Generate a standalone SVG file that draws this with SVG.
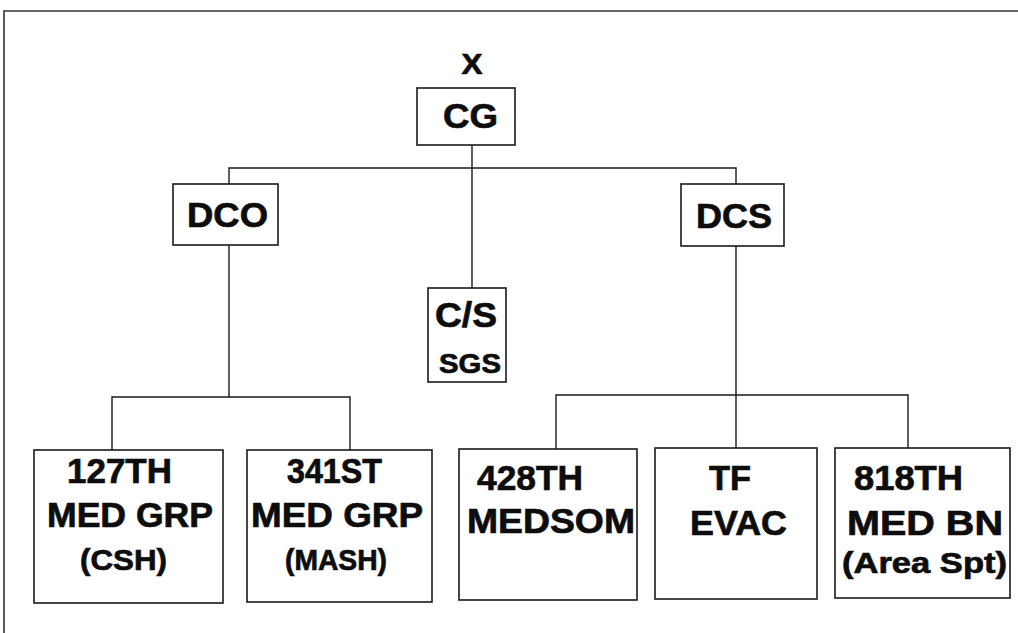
<svg xmlns="http://www.w3.org/2000/svg" width="1018" height="633" viewBox="0 0 1018 633">
<style>
.box{fill:#fff;stroke:#1a1a1a;stroke-width:1.6}
.ln{fill:none;stroke:#1a1a1a;stroke-width:1.4}
.fr{fill:none;stroke:#333;stroke-width:1.6}
text{font-family:"Liberation Sans",Arial,Helvetica,sans-serif;font-weight:bold;fill:#0d0d0d;stroke:#0d0d0d;stroke-width:0.7;text-anchor:middle}
.big{font-size:35px}
.mid{font-size:30px}
.sm{font-size:27px}
</style>
<rect width="1018" height="633" fill="#fff"/>
<g id="frame"><path class="fr" d="M4,633 V11 H1018"/></g>
<g id="connectors">
<path class="ln" d="M472,145 V288"/>
<path class="ln" d="M229,184 V168 H736 V184"/>
<path class="ln" d="M229,245 V397"/>
<path class="ln" d="M112,450 V397 H350 V450"/>
<path class="ln" d="M736,246 V448"/>
<path class="ln" d="M556,449 V395 H908 V448"/>
</g>
<g id="label-x"><text x="472" y="74" style="font-size:30px" textLength="21" lengthAdjust="spacingAndGlyphs">X</text></g>
<g id="node-cg"><rect class="box" x="417" y="88" width="98" height="57"/><text class="big" x="470.5" y="128" textLength="55" lengthAdjust="spacingAndGlyphs">CG</text></g>
<g id="node-dco"><rect class="box" x="173" y="184" width="105" height="61"/><text class="big" x="227.5" y="227" textLength="81" lengthAdjust="spacingAndGlyphs">DCO</text></g>
<g id="node-dcs"><rect class="box" x="681" y="184" width="103" height="62"/><text class="big" x="734" y="228" textLength="76" lengthAdjust="spacingAndGlyphs">DCS</text></g>
<g id="node-cs"><rect class="box" x="428" y="288" width="78" height="94"/><text class="big" x="466" y="327" textLength="62" lengthAdjust="spacingAndGlyphs">C/S</text><text class="sm" x="470" y="373" textLength="62" lengthAdjust="spacingAndGlyphs">SGS</text></g>
<g id="node-127th"><rect class="box" x="34" y="450" width="189" height="153"/><text class="big" x="119.5" y="483" textLength="105" lengthAdjust="spacingAndGlyphs">127TH</text><text class="big" x="130" y="527" textLength="166" lengthAdjust="spacingAndGlyphs">MED GRP</text><text class="mid" x="123.5" y="570" textLength="87" lengthAdjust="spacingAndGlyphs">(CSH)</text></g>
<g id="node-341st"><rect class="box" x="247" y="450" width="185" height="152"/><text class="big" x="334.5" y="483" textLength="95" lengthAdjust="spacingAndGlyphs">341ST</text><text class="big" x="337" y="527" textLength="172" lengthAdjust="spacingAndGlyphs">MED GRP</text><text class="mid" x="336" y="570" textLength="102" lengthAdjust="spacingAndGlyphs">(MASH)</text></g>
<g id="node-428th"><rect class="box" x="459" y="449" width="178" height="151"/><text class="big" x="530" y="490" textLength="106" lengthAdjust="spacingAndGlyphs">428TH</text><text class="big" x="551" y="533" textLength="168" lengthAdjust="spacingAndGlyphs">MEDSOM</text></g>
<g id="node-tf-evac"><rect class="box" x="655" y="448" width="162" height="151"/><text class="big" x="730" y="490" textLength="42" lengthAdjust="spacingAndGlyphs">TF</text><text class="big" x="738.5" y="535" textLength="97" lengthAdjust="spacingAndGlyphs">EVAC</text></g>
<g id="node-818th"><rect class="box" x="835" y="448" width="175" height="150"/><text class="big" x="908.5" y="490" textLength="109" lengthAdjust="spacingAndGlyphs">818TH</text><text class="big" x="925" y="535" textLength="156" lengthAdjust="spacingAndGlyphs">MED BN</text><text class="mid" x="924.5" y="573" textLength="165" lengthAdjust="spacingAndGlyphs">(Area Spt)</text></g>
</svg>
